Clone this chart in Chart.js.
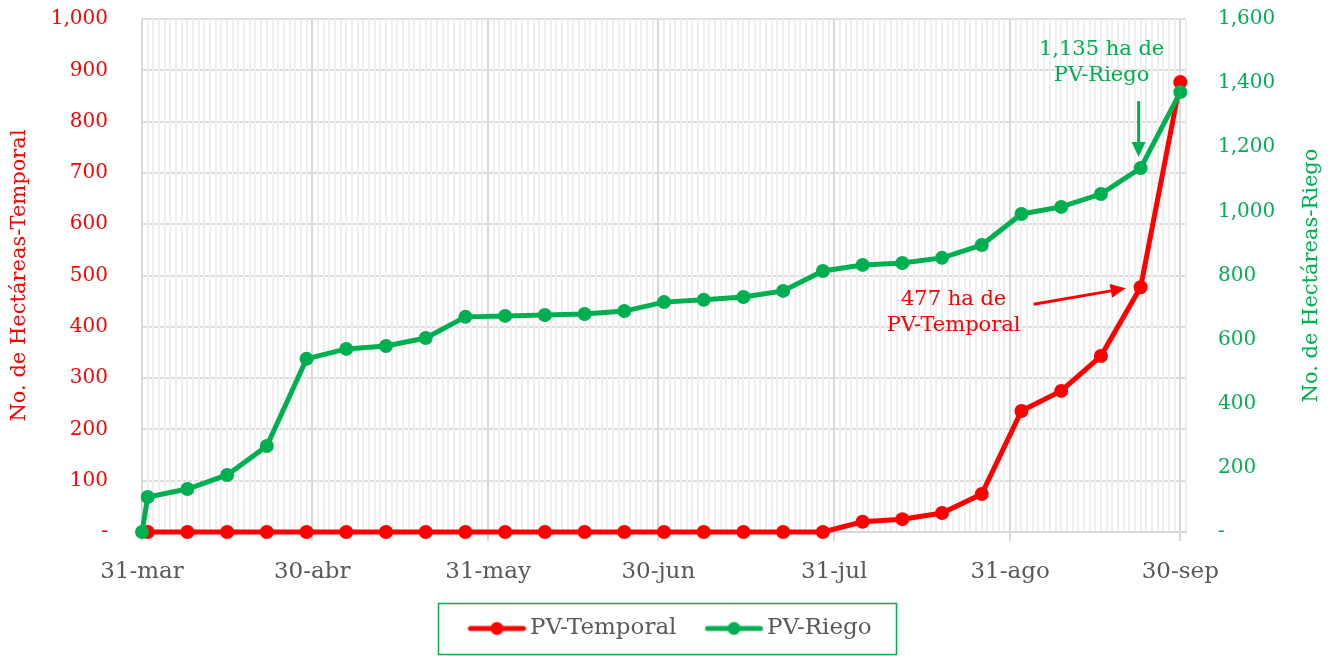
<!DOCTYPE html>
<html><head><meta charset="utf-8">
<script src="https://cdn.jsdelivr.net/npm/chart.js@4.4.1/dist/chart.umd.min.js"></script>
<style>html,body{margin:0;padding:0;background:#fff;}#wrap{width:1336px;height:656px;}</style>
</head><body><div id="wrap"><canvas id="c" width="1336" height="656"></canvas></div>
<script>
const FONT = '"DejaVu Serif", "Liberation Serif", serif';
const RED = '#ff0000', GREEN = '#00b050', TXT = '#595959';

// x axis: days since 31-mar
const majorDays = [0, 30, 61, 91, 122, 153, 183];
const majorLabels = ['31-mar', '30-abr', '31-may', '30-jun', '31-jul', '31-ago', '30-sep'];

// PV-Riego (right axis)
const riegoDays = [0, 1, 8, 15, 22, 29, 36, 43, 50, 57, 64, 71, 78, 85, 92, 99, 106, 113, 120, 127, 134, 141, 148, 155, 162, 169, 176, 183];
const riegoValues = [0, 109, 134, 178, 268, 540, 571, 580, 605, 671, 674, 677, 680, 689, 717, 724, 733, 752, 814, 833, 839, 855, 895, 992, 1014, 1054, 1135, 1372];

// PV-Temporal (left axis)
const temporalDays = [1, 8, 15, 22, 29, 36, 43, 50, 57, 64, 71, 78, 85, 92, 99, 106, 113, 120, 127, 134, 141, 148, 155, 162, 169, 176, 183];
const temporalValues = [0, 0, 0, 0, 0, 0, 0, 0, 0, 0, 0, 0, 0, 0, 0, 0, 0, 0, 20, 25, 37, 74, 236, 275, 343, 477, 877];

const seriesNames = ['PV-Temporal', 'PV-Riego'];
const leftTitle = 'No. de Hectáreas-Temporal';
const rightTitle = 'No. de Hectáreas-Riego';
const noteRiego = ['1,135 ha de', 'PV-Riego'];
const noteTemporal = ['477 ha de', 'PV-Temporal'];

function toXY(days, vals) { return days.map((d, i) => ({ x: d, y: vals[i] })); }
function fmt(v) { return v === 0 ? '-' : v.toLocaleString('en-US'); }

// legend icon: image wider than its box so the line sits close to the text
const ICON_W = 90, BOX_W = 70, LINE_START = 30, LINE_END = 87;
function legendIcon(color) {
  const c = document.createElement('canvas');
  c.width = ICON_W; c.height = 16;
  const g = c.getContext('2d');
  g.strokeStyle = color; g.lineWidth = 5; g.lineCap = 'round';
  g.beginPath(); g.moveTo(LINE_START + 2, 8); g.lineTo(LINE_END - 2, 8); g.stroke();
  g.fillStyle = color; g.beginPath(); g.arc((LINE_START + LINE_END) / 2, 8, 6.5, 0, Math.PI * 2); g.fill();
  return c;
}
const icons = [legendIcon(RED), legendIcon(GREEN)];

function arrow(ctx, x1, y1, x2, y2, color) {
  const ang = Math.atan2(y2 - y1, x2 - x1);
  const hl = 15, hw = 7;
  const bx = x2 - hl * Math.cos(ang), by = y2 - hl * Math.sin(ang);
  ctx.save();
  ctx.strokeStyle = color; ctx.fillStyle = color; ctx.lineWidth = 3;
  ctx.beginPath(); ctx.moveTo(x1, y1); ctx.lineTo(bx, by); ctx.stroke();
  ctx.beginPath();
  ctx.moveTo(x2, y2);
  ctx.lineTo(bx + hw * Math.sin(ang), by - hw * Math.cos(ang));
  ctx.lineTo(bx - hw * Math.sin(ang), by + hw * Math.cos(ang));
  ctx.closePath(); ctx.fill();
  ctx.restore();
}

const extras = {
  id: 'extras',
  afterDatasetsDraw(chart) {
    const ctx = chart.ctx;
    const g = chart.getDatasetMeta(1).data[26];
    const r = chart.getDatasetMeta(0).data[25];
    ctx.save();
    ctx.font = '21px ' + FONT;
    ctx.textAlign = 'center'; ctx.textBaseline = 'middle';
    ctx.fillStyle = GREEN;
    ctx.fillText(noteRiego[0], g.x - 39, g.y - 119);
    ctx.fillText(noteRiego[1], g.x - 39, g.y - 93);
    arrow(ctx, g.x - 2, g.y - 67, g.x - 2, g.y - 11, GREEN);
    ctx.fillStyle = RED;
    ctx.fillText(noteTemporal[0], r.x - 187, r.y + 12);
    ctx.fillText(noteTemporal[1], r.x - 187, r.y + 38);
    arrow(ctx, r.x - 107, r.y + 17, r.x - 15, r.y + 1, RED);
    ctx.restore();
  },
  afterDraw(chart) {
    const ctx = chart.ctx, ca = chart.chartArea;
    const cy = (ca.top + ca.bottom) / 2;
    [[20, leftTitle, RED], [1312, rightTitle, GREEN]].forEach(([x, t, col]) => {
      ctx.save();
      ctx.font = '21px ' + FONT;
      ctx.textAlign = 'center'; ctx.textBaseline = 'middle';
      ctx.translate(x, cy); ctx.rotate(-Math.PI / 2);
      ctx.fillStyle = col; ctx.fillText(t, 0, 0);
      ctx.restore();
    });
    // legend frame
    const L = chart.legend, hb = L.legendHitBoxes;
    if (hb && hb.length) {
      const last = hb[hb.length - 1];
      const lineStart = hb[0].left + (BOX_W - ICON_W) / 2 + LINE_START;
      const left = lineStart - 30, right = last.left + last.width + 25;
      ctx.save();
      ctx.strokeStyle = GREEN; ctx.lineWidth = 1.5;
      ctx.strokeRect(Math.round(left) + 0.5, 603.5, Math.round(right - left), 51);
      ctx.restore();
    }
  }
};

new Chart(document.getElementById('c'), {
  type: 'line',
  data: {
    datasets: [
      { label: seriesNames[0], data: toXY(temporalDays, temporalValues), yAxisID: 'y', order: 1, clip: false,
        borderColor: RED, backgroundColor: RED, borderWidth: 5, pointRadius: 7, pointHoverRadius: 7,
        pointBorderWidth: 0, pointBackgroundColor: RED, tension: 0 },
      { label: seriesNames[1], data: toXY(riegoDays, riegoValues), yAxisID: 'y2', order: 0, clip: false,
        borderColor: GREEN, backgroundColor: GREEN, borderWidth: 5, pointRadius: 7, pointHoverRadius: 7,
        pointBorderWidth: 0, pointBackgroundColor: GREEN, tension: 0 }
    ]
  },
  options: {
    responsive: false, animation: false,
    layout: { padding: { top: 19, left: 0, right: 16, bottom: 6 } },
    plugins: {
      tooltip: { enabled: false },
      legend: {
        position: 'bottom',
        labels: {
          usePointStyle: true, pointStyleWidth: BOX_W, padding: 9,
          color: TXT, font: { family: FONT, size: 23 },
          generateLabels: () => seriesNames.map((n, i) => ({
            text: n, pointStyle: icons[i], fillStyle: i ? GREEN : RED, strokeStyle: 'transparent',
            lineWidth: 0, fontColor: TXT, datasetIndex: i, hidden: false
          }))
        }
      }
    },
    scales: {
      x: {
        type: 'linear', min: 0, max: 184,
        afterFit: s => { s.height = 76; },
        ticks: {
          stepSize: 1, autoSkip: false, maxRotation: 0, minRotation: 0, padding: 17,
          color: TXT, font: { family: FONT, size: 23 },
          callback: v => { const k = majorDays.indexOf(v); return k >= 0 ? majorLabels[k] : ''; }
        },
        grid: {
          z: -1, tickLength: 9,
          color: c => majorDays.includes(c.tick && c.tick.value) ? '#d9d9d9' : '#efefef',
          lineWidth: 2,
          tickColor: c => majorDays.includes(c.tick && c.tick.value) ? '#d9d9d9' : 'rgba(0,0,0,0)',
          tickWidth: 2
        },
        border: { display: true, color: '#d9d9d9', width: 2 }
      },
      y: {
        position: 'left', min: 0, max: 1000,
        afterFit: s => { s.width = 142; },
        ticks: { stepSize: 100, padding: 4, color: RED, font: { family: FONT, size: 20 }, callback: fmt },
        grid: { z: -2, color: '#dedede', lineWidth: 2, drawTicks: true, tickLength: 30, tickColor: 'rgba(0,0,0,0)' },
        border: { display: false }
      },
      y2: {
        position: 'right', min: 0, max: 1600,
        afterFit: s => { s.width = 134; },
        ticks: { stepSize: 200, padding: 4, color: GREEN, font: { family: FONT, size: 20 }, callback: fmt },
        grid: { drawOnChartArea: false, drawTicks: true, tickLength: 28, tickColor: 'rgba(0,0,0,0)' },
        border: { display: false }
      }
    }
  },
  plugins: [extras]
});
</script></body></html>
